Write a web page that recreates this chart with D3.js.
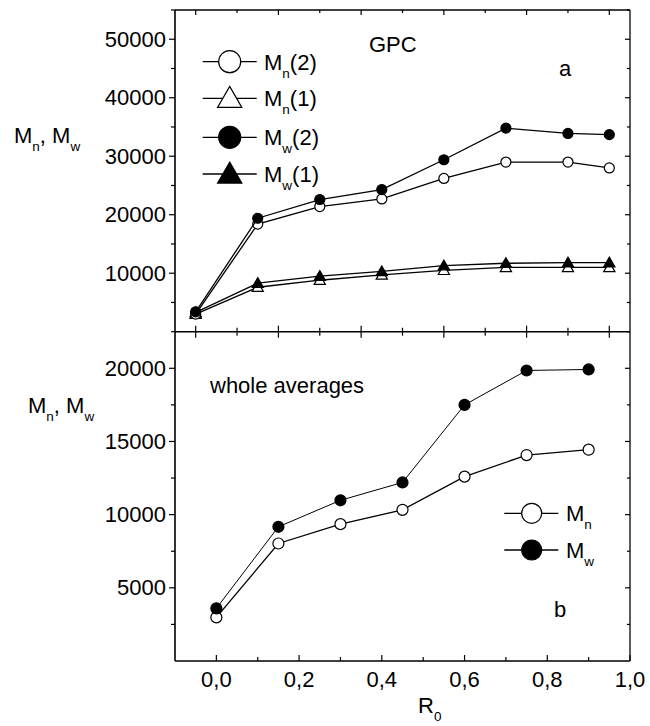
<!DOCTYPE html>
<html><head><meta charset="utf-8">
<script src="https://cdn.jsdelivr.net/npm/d3@7"></script>
<style>body{margin:0;background:#fff}svg{display:block}text{font-family:"Liberation Sans",Arial,sans-serif;fill:#000}</style>
</head><body>
<svg id="c" width="650" height="726"></svg>
<script>
// Panel a (GPC)
const topR = [0, 0.15, 0.3, 0.45, 0.6, 0.75, 0.9, 1.0];
const MnGPC2 = [3000, 18400, 21400, 22700, 26200, 29000, 29000, 28000];
const MnGPC1 = [3000, 7600, 8800, 9700, 10500, 11000, 11000, 11000];
const MwGPC2 = [3400, 19400, 22600, 24300, 29400, 34800, 33900, 33700];
const MwGPC1 = [3300, 8300, 9500, 10300, 11300, 11700, 11800, 11800];
const topYTicks = [10000, 20000, 30000, 40000, 50000];
// Panel b (whole averages)
const botR = [0, 0.15, 0.3, 0.45, 0.6, 0.75, 0.9];
const MnWhole = [2980, 8030, 9350, 10330, 12600, 14070, 14440];
const MwWhole = [3600, 9170, 10980, 12200, 17500, 19850, 19920];
const botYTicks = [5000, 10000, 15000, 20000];
const xTickLabels = ["0,0", "0,2", "0,4", "0,6", "0,8", "1,0"];
const xTickVals = [0, 0.2, 0.4, 0.6, 0.8, 1.0];

const svg = d3.select("#c");
const L = 175, R = 630, T1 = 10, B1 = 331.7, B2 = 661;
const xTop = d3.scaleLinear().domain([-0.05, 1.05]).range([L, R]);
const xBot = d3.scaleLinear().domain([-0.1, 1.0]).range([L, R]);
const yTop = d3.scaleLinear().domain([0, 55000]).range([B1, T1]);
const yBot = d3.scaleLinear().domain([0, 22500]).range([B2, B1]);

const FS = 22, SFS = 13.5, SDY = 8;
function axisLine(x1,y1,x2,y2,w,col){svg.append("line").attr("x1",x1).attr("y1",y1).attr("x2",x2).attr("y2",y2).attr("stroke",col||"#000").attr("stroke-width",w||1.6);}

// ---- frames
axisLine(L, T1, R, T1, 1.4);
axisLine(R, T1, R, B2, 1.6, "#333");
axisLine(L, T1, L, B2, 1.6);
axisLine(L, B1, R, B1, 1.6);
axisLine(L, B2, R, B2, 1.6);

// ---- top panel x ticks (top edge inward, middle crossing)
const topMajor = [0,0.2,0.4,0.6,0.8,1.0], topMinor=[0.1,0.3,0.5,0.7,0.9];
topMajor.forEach(v=>{const x=xTop(v); axisLine(x,T1,x,T1+5,1.2); axisLine(x,B1-6,x,B1+6,1.2);});
topMinor.forEach(v=>{const x=xTop(v); axisLine(x,T1,x,T1+3,1.2); axisLine(x,B1-4,x,B1+4,1.2);});
// top y ticks
d3.range(5000, 55001, 5000).forEach(v=>{const y=yTop(v); const maj = v%10000===0;
  axisLine(L-(maj?6:4), y, L, y, 1.2); axisLine(R-(maj?5:3), y, R, y, 1.2);});
svg.selectAll(".tyl").data(topYTicks).enter().append("text")
  .attr("x", L-9).attr("y", d=>yTop(d)+7.5).attr("text-anchor","end").attr("font-size",FS).text(d=>d);

// ---- bottom panel ticks
xTickVals.forEach(v=>{const x=xBot(v); axisLine(x,B2-6,x,B2,1.2);});
[0.1,0.3,0.5,0.7,0.9].forEach(v=>{const x=xBot(v); axisLine(x,B2-4,x,B2,1.2);});
svg.selectAll(".bxl").data(xTickVals).enter().append("text")
  .attr("x", d=>xBot(d)).attr("y", 687).attr("text-anchor","middle").attr("font-size",FS).text((d,i)=>xTickLabels[i]);
d3.range(2500, 22501, 2500).forEach(v=>{const y=yBot(v); const maj = v%5000===0;
  axisLine(L-(maj?6:4), y, L, y, 1.2); axisLine(R-(maj?5:3), y, R, y, 1.2);});
svg.selectAll(".byl").data(botYTicks).enter().append("text")
  .attr("x", L-9).attr("y", d=>yBot(d)+7.5).attr("text-anchor","end").attr("font-size",FS).text(d=>d);

// ---- helpers
function sub(t, main, s, tail){
  t.append("tspan").text(main);
  t.append("tspan").attr("font-size",SFS).attr("dy",SDY).text(s);
  if(tail!==undefined) t.append("tspan").attr("dy",-SDY).text(tail);
}
const tri = d3.symbol().type(d3.symbolTriangle);
function series(x, y, xs, ys, shape, fill, size, lw){
  const line = d3.line().x((d,i)=>x(xs[i])).y(d=>y(d));
  svg.append("path").attr("d", line(ys)).attr("fill","none").attr("stroke","#000").attr("stroke-width",lw||1.3);
  ys.forEach((v,i)=>drawMarker(x(xs[i]), y(v), shape, fill, size));
}
function drawMarker(cx, cy, shape, fill, size){
  if(shape==="circle") svg.append("circle").attr("cx",cx).attr("cy",cy).attr("r",size).attr("fill",fill).attr("stroke","#000").attr("stroke-width",1.2);
  else svg.append("path").attr("d", tri.size(size*size*1.3)()).attr("transform",`translate(${cx},${cy+size*0.15})`).attr("fill",fill).attr("stroke","#000").attr("stroke-width",1.2);
}

// ---- top series
series(xTop, yTop, topR, MnGPC1, "tri", "#fff", 6.5);
series(xTop, yTop, topR, MwGPC1, "tri", "#000", 6.5);
series(xTop, yTop, topR, MnGPC2, "circle", "#fff", 5);
series(xTop, yTop, topR, MwGPC2, "circle", "#000", 5);

// legend top
const legTop = [["circle","#fff","2"],["tri","#fff","1"],["circle","#000","2"],["tri","#000","1"]];
const legSub = ["n","n","w","w"];
const legY = [61.7, 98.3, 137.3, 174];
legTop.forEach((d,i)=>{
  axisLine(202.7, legY[i], 256.7, legY[i], 1.3);
  drawMarker(229.7, legY[i], d[0], d[1], d[0]==="circle"?11:14);
  const t = svg.append("text").attr("x",264).attr("y",legY[i]+8).attr("font-size",FS);
  sub(t, "M", legSub[i], "("+d[2]+")");
});
svg.append("text").attr("x",369).attr("y",52).attr("font-size",FS).text("GPC");
svg.append("text").attr("x",559).attr("y",76).attr("font-size",FS).text("a");
const yl1 = svg.append("text").attr("x",14).attr("y",143).attr("font-size",FS);
yl1.append("tspan").text("M"); yl1.append("tspan").attr("font-size",SFS).attr("dy",SDY).text("n");
yl1.append("tspan").attr("dy",-SDY).text(", M"); yl1.append("tspan").attr("font-size",SFS).attr("dy",SDY).text("w");

// ---- bottom series
series(xBot, yBot, botR, MnWhole, "circle", "#fff", 5.5, 1.3);
series(xBot, yBot, botR, MwWhole, "circle", "#000", 5.5, 1.0);
[["#fff","n",513.3],["#000","w",550]].forEach(d=>{
  axisLine(504.3, d[2], 558.3, d[2], 1.3);
  drawMarker(531.7, d[2], "circle", d[0], 10);
  const t = svg.append("text").attr("x",566).attr("y",d[2]+8).attr("font-size",FS);
  sub(t, "M", d[1]);
});
svg.append("text").attr("x",210).attr("y",393).attr("font-size",FS).text("whole averages");
svg.append("text").attr("x",554).attr("y",617).attr("font-size",FS).text("b");
const yl2 = svg.append("text").attr("x",28).attr("y",413).attr("font-size",FS);
yl2.append("tspan").text("M"); yl2.append("tspan").attr("font-size",SFS).attr("dy",SDY).text("n");
yl2.append("tspan").attr("dy",-SDY).text(", M"); yl2.append("tspan").attr("font-size",SFS).attr("dy",SDY).text("w");
const xl = svg.append("text").attr("x",418).attr("y",713).attr("font-size",FS);
sub(xl, "R", "0");
</script>
</body></html>
